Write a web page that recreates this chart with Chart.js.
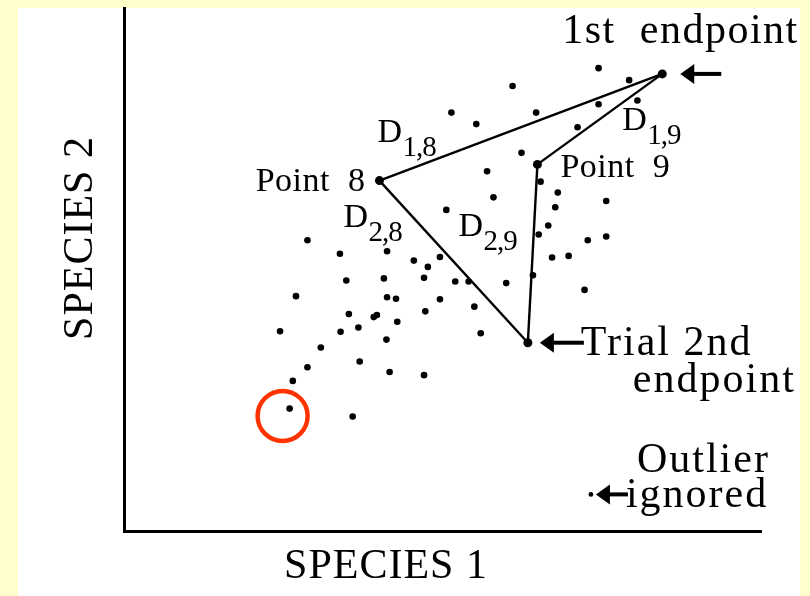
<!DOCTYPE html>
<html><head><meta charset="utf-8">
<script src="https://cdn.jsdelivr.net/npm/chart.js@4/dist/chart.umd.min.js"></script>
<style>html,body{margin:0;padding:0;background:#FFFFCC;}canvas{display:block;}</style>
</head><body>
<canvas id="c" width="810" height="596"></canvas>
<script>
// ---- data (arbitrary abundance units, 0-100 on both axes) ----
const speciesX = [74.5,79.3,61.0,80.6,51.4,64.7,74.5,55.3,71.2,62.4,57.0,65.4,68.1,58.0,75.7,67.7,66.6,65.1,50.6,72.8,75.7,67.2,69.8,64.2,52.0,54.1,60.0,72.3,55.0,56.0,28.8,33.9,41.3,45.5,49.6,47.7,34.9,40.8,47.1,27.0,41.3,42.7,49.6,35.3,39.2,39.7,47.3,42.9,24.5,34.0,36.8,41.2,30.9,28.8,37.0,41.7,47.1,26.5,26.0,35.9];
const speciesY = [88.5,86.2,85.1,82.3,80.0,80.0,81.6,77.8,77.2,72.3,68.8,66.8,64.7,63.8,63.1,61.9,58.4,56.7,61.4,55.6,56.3,52.3,52.6,48.9,47.7,47.7,47.4,46.1,42.9,37.8,55.6,53.0,53.5,51.7,52.4,50.5,47.9,48.3,48.4,44.9,44.7,44.4,44.3,41.5,40.9,41.3,42.0,40.0,38.2,38.1,38.9,36.6,35.1,31.3,32.4,30.4,29.8,28.7,23.4,21.9];
const keyNames = ['1st endpoint', 'Point 9', 'Point 8', 'Trial 2nd endpoint'];
const keyX = [84.5, 64.9, 40.1, 63.4];
const keyY = [87.4, 70.1, 67.0, 36.0];
const outlierX = [73.3];
const outlierY = [7.0];
const circledX = [24.9];   // ring drawn round the low corner point
const circledY = [22.0];
const segNames = ['D1,8', 'D1,9', 'D2,8', 'D2,9'];
const segFrom = [0, 0, 2, 1];
const segTo = [2, 1, 3, 3];
const axisTitles = ['SPECIES 1', 'SPECIES 2'];

const pts = (xs, ys) => xs.map((x, i) => ({x: x, y: ys[i]}));

const datasets = [
  {label: 'ring', data: pts(circledX, circledY), pointStyle: 'circle', pointRadius: 25,
   pointBorderWidth: 4.5, pointBorderColor: '#FF3300', pointBackgroundColor: 'rgba(0,0,0,0)', order: 0},
  {label: 'key points', data: pts(keyX, keyY), pointRadius: 4.5, pointBorderWidth: 0,
   pointBackgroundColor: '#000', order: 1},
  {label: 'points', data: pts(speciesX, speciesY), pointRadius: 3.3, pointBorderWidth: 0,
   pointBackgroundColor: '#000', order: 2},
  {label: 'outlier', data: pts(outlierX, outlierY), pointRadius: 2.4, pointBorderWidth: 0,
   pointBackgroundColor: '#000', order: 3}
];
segFrom.forEach((f, i) => {
  datasets.push({label: segNames[i], showLine: true,
    data: [{x: keyX[f], y: keyY[f]}, {x: keyX[segTo[i]], y: keyY[segTo[i]]}],
    borderColor: '#000', borderWidth: 2.4, pointRadius: 0, order: 5});
});

const SERIF = '"Liberation Serif","Times New Roman",Times,serif';
function txt(ctx, s, x, y, size, align, spacing) {
  ctx.font = size + 'px ' + SERIF;
  ctx.letterSpacing = (spacing || 0) + 'px';
  ctx.textAlign = align || 'left';
  ctx.textBaseline = 'alphabetic';
  ctx.fillStyle = '#000';
  ctx.fillText(s, x, y);
}
function dlabel(ctx, sub, x, y) {
  txt(ctx, 'D', x, y, 34, 'left', 0);
  txt(ctx, sub, x + 25, y + 14, 29, 'left', -1);
}
function arrow(ctx, tipX, tailX, y) {
  ctx.fillStyle = '#000';
  ctx.beginPath();
  ctx.moveTo(tipX, y);
  ctx.lineTo(tipX + 14, y - 10);
  ctx.lineTo(tipX + 14, y + 10);
  ctx.closePath();
  ctx.fill();
  ctx.fillRect(tipX + 12, y - 2, tailX - tipX - 12, 4);
}

const deco = {
  id: 'deco',
  beforeDraw(chart) {
    const c = chart.ctx;
    c.save();
    c.fillStyle = '#FFFFCC';
    c.fillRect(0, 0, chart.width, chart.height);
    c.fillStyle = '#FFFFFF';
    c.fillRect(18, 8, 782, chart.height - 8);
    c.restore();
  },
  afterDraw(chart) {
    const c = chart.ctx, xs = chart.scales.x, ys = chart.scales.y;
    const P = i => ({x: xs.getPixelForValue(keyX[i]), y: ys.getPixelForValue(keyY[i])});
    const E = P(0), P9 = P(1), P8 = P(2), T = P(3);
    const O = {x: xs.getPixelForValue(outlierX[0]), y: ys.getPixelForValue(outlierY[0])};
    c.save();
    // axis titles
    txt(c, axisTitles[0], 386, 578, 42, 'center', 1);
    c.save();
    c.translate(92, 238);
    c.rotate(-Math.PI / 2);
    txt(c, axisTitles[1], 0, 0, 42, 'center', 1);
    c.restore();
    // 1st endpoint
    txt(c, '1st  endpoint', E.x - 100, E.y - 31, 42, 'left', 1.5);
    arrow(c, E.x + 18, E.x + 59, E.y);
    dlabel(c, '1,9', E.x - 40, E.y + 56);
    // point 9
    txt(c, 'Point  9', P9.x + 23, P9.y + 13, 34, 'left', 0.5);
    dlabel(c, '2,9', P9.x - 79, P9.y + 72);
    // point 8
    txt(c, 'Point  8', P8.x - 14, P8.y + 10, 34, 'right', 0.5);
    dlabel(c, '1,8', P8.x - 2, P8.y - 39);
    dlabel(c, '2,8', P8.x - 36, P8.y + 46);
    // trial 2nd endpoint
    arrow(c, T.x + 12, T.x + 56, T.y);
    txt(c, 'Trial 2nd', T.x + 53, T.y + 12, 42, 'left', 2);
    txt(c, 'endpoint', T.x + 105, T.y + 49, 42, 'left', 2);
    // outlier
    txt(c, 'Outlier', O.x + 46, O.y - 22, 42, 'left', 2);
    arrow(c, O.x + 5, O.x + 37, O.y);
    txt(c, 'ignored', O.x + 35, O.y + 13, 42, 'left', 2);
    c.restore();
  }
};

const axisOpts = (min, max) => ({
  type: 'linear', min: min, max: max, display: true,
  ticks: {display: false},
  grid: {display: false, drawTicks: false},
  border: {display: true, color: '#000', width: 3},
  title: {display: false}
});

new Chart(document.getElementById('c'), {
  type: 'scatter',
  data: {datasets: datasets},
  options: {
    responsive: false, animation: false, devicePixelRatio: 1,
    layout: {autoPadding: false, padding: {left: 124, right: 49, top: 8, bottom: 65}},
    plugins: {legend: {display: false}, tooltip: {enabled: false}},
    scales: {x: axisOpts(0, 100), y: axisOpts(0, 100)}
  },
  plugins: [deco]
});
</script>
</body></html>
